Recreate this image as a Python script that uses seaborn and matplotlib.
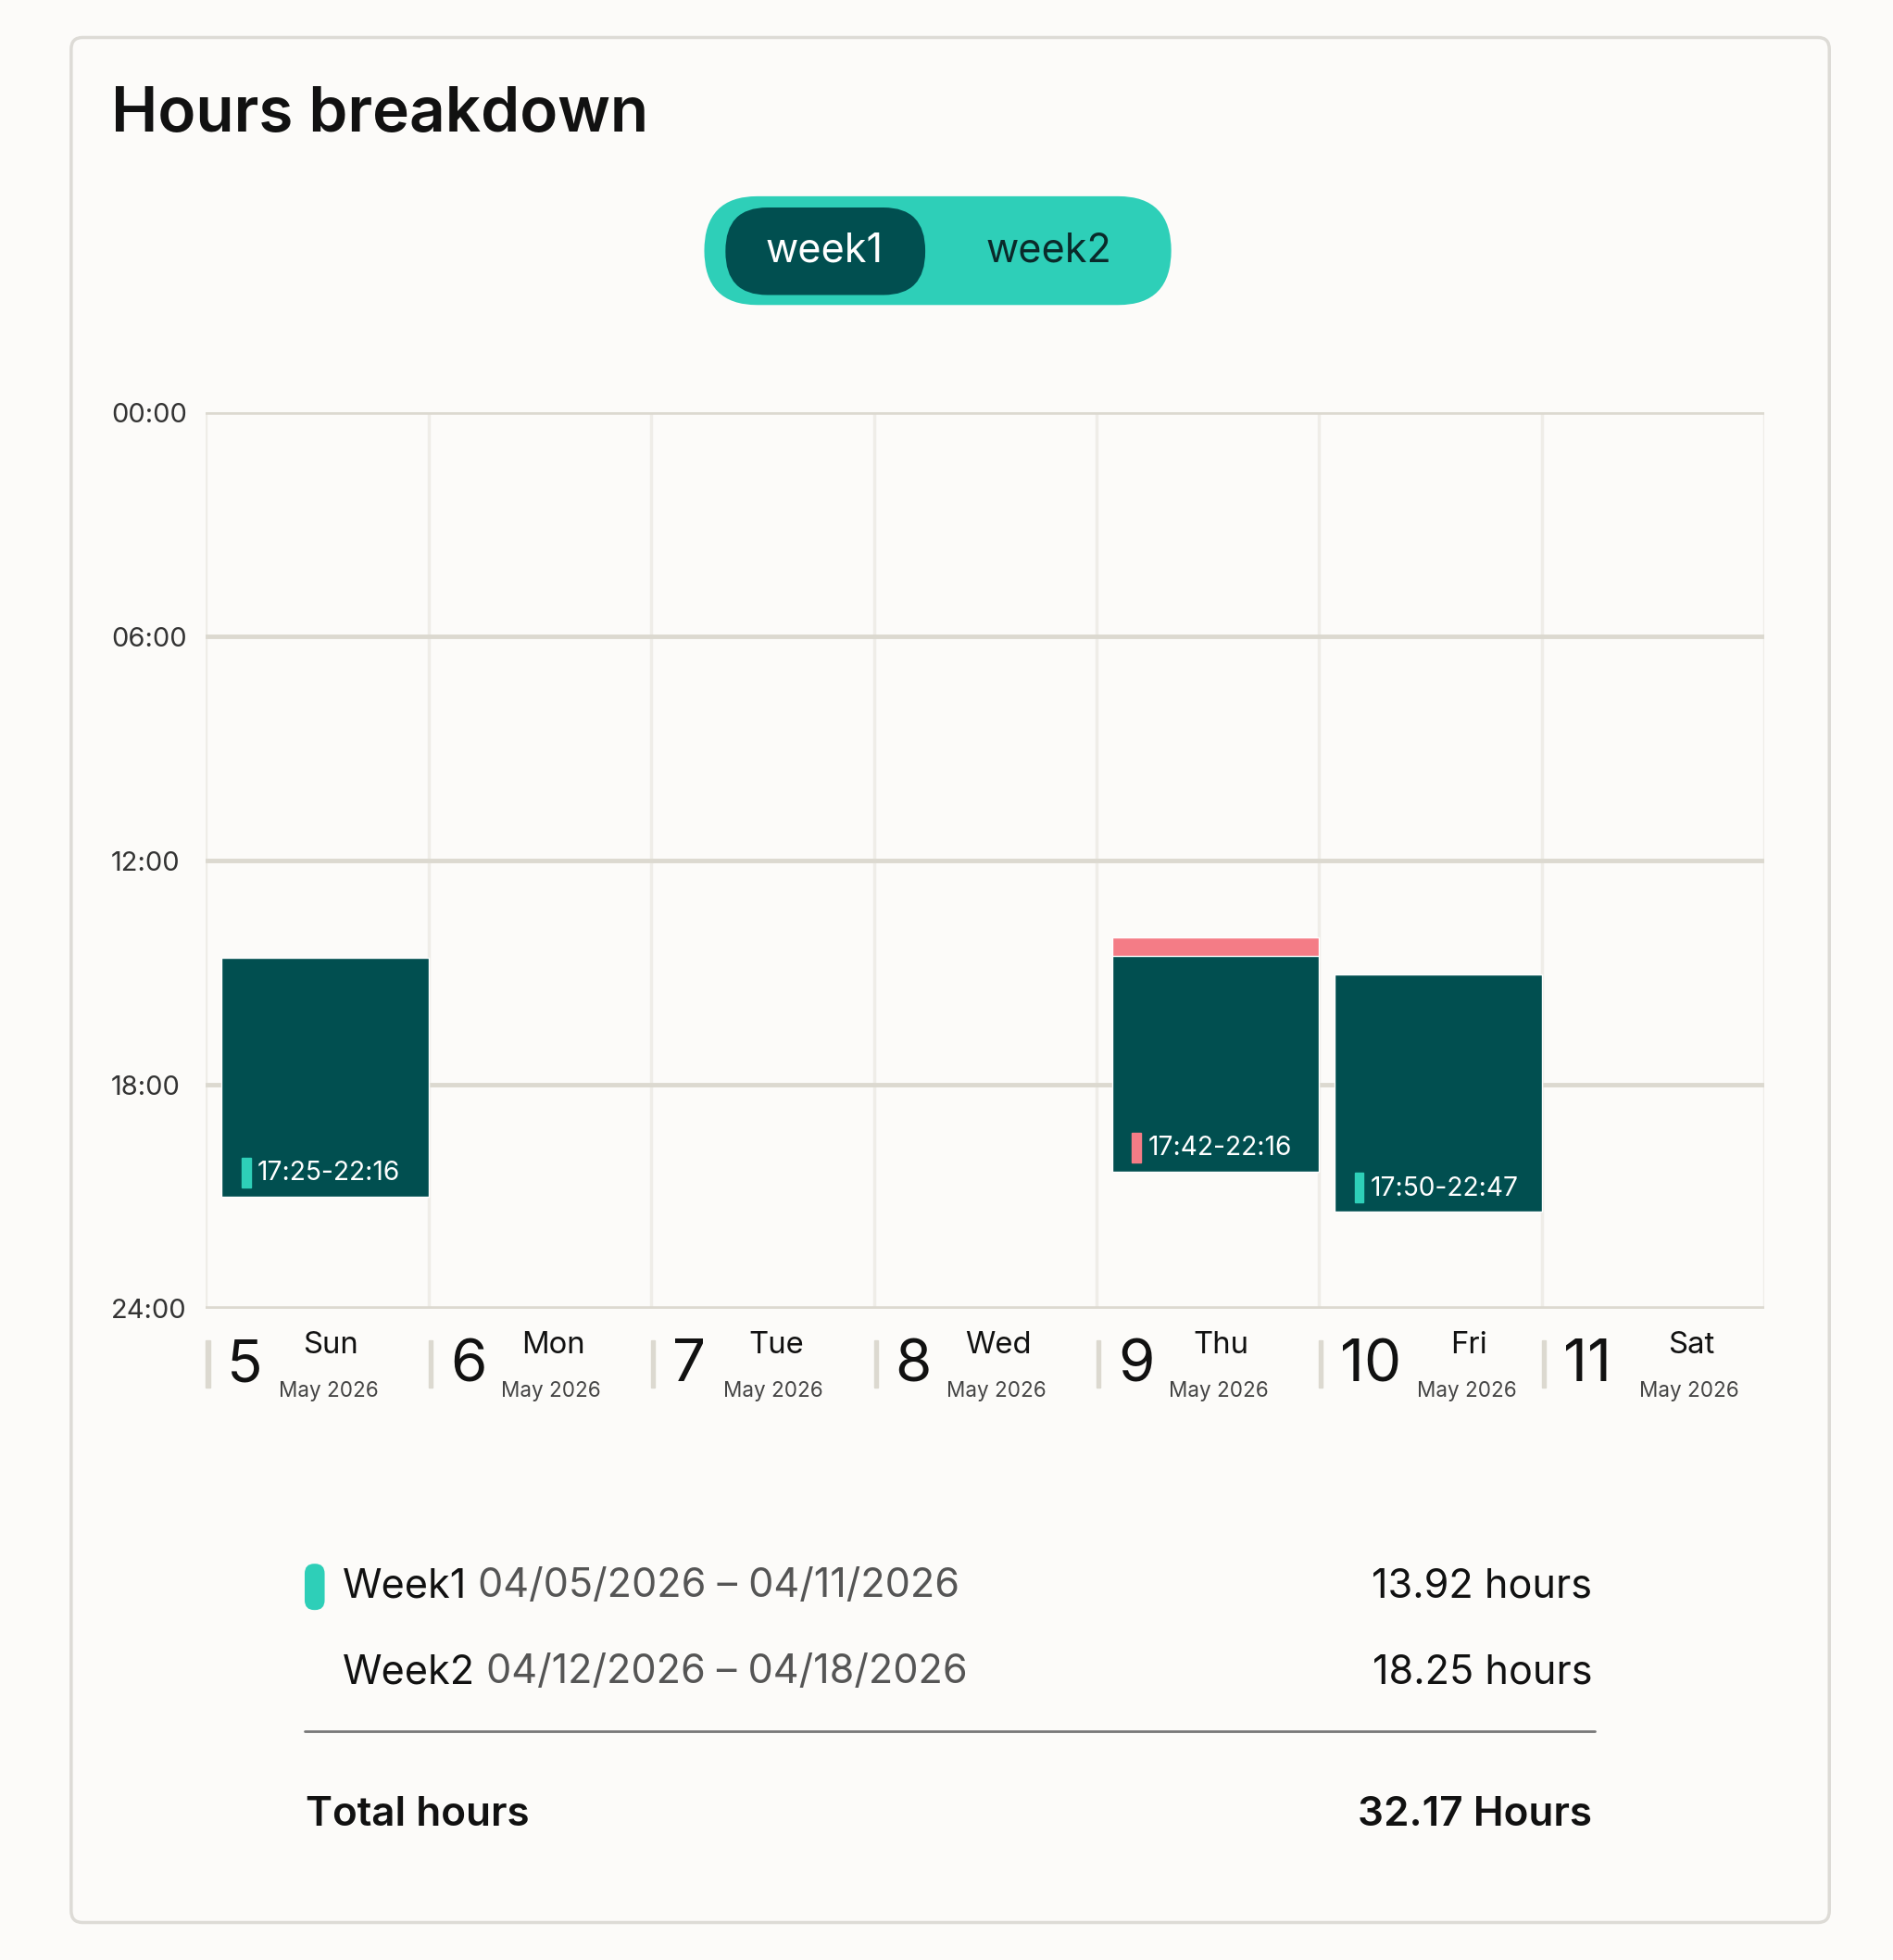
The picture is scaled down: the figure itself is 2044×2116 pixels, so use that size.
import matplotlib
matplotlib.use("Agg")
import matplotlib.pyplot as plt
import seaborn as sns
from matplotlib.patches import FancyBboxPatch, Rectangle

sns.set_theme(style="white")
plt.rcParams['font.family'] = ['Inter', 'DejaVu Sans']

days = ["Sun", "Mon", "Tue", "Wed", "Thu", "Fri", "Sat"]
day_nums = ["5", "6", "7", "8", "9", "10", "11"]
month_label = "May 2026"
y_ticks = [0, 6, 12, 18, 24]
y_tick_labels = ["00:00", "06:00", "12:00", "18:00", "24:00"]
# bars: day index, start hour, end hour, label, marker colour
bar_day = [0, 4, 5]
bar_start = [14.6, 14.55, 15.05]
bar_end = [21.0, 20.33, 21.4]
bar_labels = ["17:25-22:16", "17:42-22:16", "17:50-22:47"]
bar_marks = ["#2ecfb8", "#f47c86", "#2ecfb8"]
pink_day = [4]
pink_start = [14.05]
pink_end = [14.7]
legend_names = ["Week1", "Week2"]
legend_ranges = ["04/05/2026 – 04/11/2026", "04/12/2026 – 04/18/2026"]
legend_hours = ["13.92 hours", "18.25 hours"]
total_label = "Total hours"
total_value = "32.17 Hours"

DARK = "#014f50"
TEAL = "#2ecfb8"
BG = "#fcfbf9"
W, H = 1516, 1568

fig = plt.figure(figsize=(20.44, 21.16), dpi=100)
fig.patch.set_facecolor(BG)

def fx(x): return x / W
def fy(y): return 1 - y / H
def fs(c): return c * 1.35

# card border
fig.patches.append(FancyBboxPatch((fx(57), fy(1538)), fx(1465) - fx(57), fy(30) - fy(1538),
                                  boxstyle="round,pad=0,rounding_size=0.006", transform=fig.transFigure,
                                  facecolor=BG, edgecolor="#dddbd6", linewidth=2.5, zorder=-10))
fig.text(fx(89), fy(92), "Hours breakdown", fontsize=fs(36), fontweight="semibold", color="#111",
         va="center", ha="left")

# toggle
fig.patches.append(FancyBboxPatch((fx(564), fy(244)), fx(938) - fx(564), fy(157) - fy(244),
                                  boxstyle="round,pad=0,rounding_size=0.028", transform=fig.transFigure,
                                  facecolor=TEAL, edgecolor="none", zorder=1))
fig.patches.append(FancyBboxPatch((fx(581), fy(236)), fx(741) - fx(581), fy(166) - fy(236),
                                  boxstyle="round,pad=0,rounding_size=0.022", transform=fig.transFigure,
                                  facecolor=DARK, edgecolor="none", zorder=2))
fig.text(fx(660), fy(201), "week1", fontsize=fs(23), color="white", ha="center", va="center", zorder=3)
fig.text(fx(840), fy(201), "week2", fontsize=fs(23), color="#0a2a2a", ha="center", va="center", zorder=3)

# chart axes
ax = fig.add_axes([fx(165), fy(1047), fx(1413) - fx(165), fy(330) - fy(1047)])
ax.set_zorder(5)
ax.patch.set_alpha(0)
ax.set_xlim(0, 7)
ax.set_ylim(24, 0)
for s in ax.spines.values():
    s.set_visible(False)
for i in range(8):
    ax.axvline(i, color="#efede8", lw=2.5, zorder=0)
for t in y_ticks:
    ax.axhline(t, color="#dcd9d0", lw=4 if t in (0, 24) else 3.5, zorder=1)
ax.set_yticks(y_ticks)
ax.set_yticklabels(y_tick_labels, fontsize=fs(15.5), color="#333", ha="left")
ax.tick_params(axis="y", length=0, pad=(165 - 89) * 1.348 * 0.72)
ax.set_xticks([])

off, wid = 0.07, 0.93
ax.bar([d + off for d in pink_day], [e - s for s, e in zip(pink_start, pink_end)], bottom=pink_start,
       width=wid, align="edge", color="#f47c86", zorder=3)
ax.bar([d + off for d in bar_day], [e - s for s, e in zip(bar_start, bar_end)], bottom=bar_start,
       width=wid, align="edge", color=DARK, zorder=4)
for d, e, lab, mc in zip(bar_day, bar_end, bar_labels, bar_marks):
    ax.add_patch(Rectangle((d + off + 0.09, e - 1.05), 0.04, 0.8, color=mc, zorder=5))
    ax.text(d + off + 0.16, e - 0.62, lab, color="white", fontsize=fs(15), va="center", ha="left", zorder=6)

# day labels
colw = (1413 - 165) / 7
for i, (n, d) in enumerate(zip(day_nums, days)):
    x0 = 165 + i * colw
    fig.patches.append(Rectangle((fx(x0), fy(1110)), fx(3), fy(1072) - fy(1110),
                                 transform=fig.transFigure, color="#dcd9d0"))
    fig.text(fx(x0 + 17), fy(1093), n, fontsize=fs(34), color="#111", ha="left", va="center")
    cx = x0 + (100 if len(n) == 1 else 120)
    fig.text(fx(cx), fy(1076), d, fontsize=fs(17.5), color="#111", ha="center", va="center")
    fig.text(fx(cx - 2), fy(1113), month_label, fontsize=fs(12), color="#444", ha="center", va="center")

# legend
fig.patches.append(FancyBboxPatch((fx(244), fy(1288)), fx(16), fy(1251) - fy(1288),
                                  boxstyle="round,pad=0,rounding_size=0.005", transform=fig.transFigure,
                                  facecolor=TEAL, edgecolor="none"))
for k, yy in enumerate([1269, 1338]):
    t = fig.text(fx(274), fy(yy), legend_names[k], fontsize=fs(23), color="#111", ha="left", va="center")
    fig.canvas.draw()
    bb = t.get_window_extent()
    fig.text(bb.x1 / fig.bbox.width + fx(9), fy(yy), legend_ranges[k], fontsize=fs(23), color="#555",
             ha="left", va="center")
    fig.text(fx(1275), fy(yy), legend_hours[k], fontsize=fs(23), color="#111", ha="right", va="center")
fig.lines.append(plt.Line2D([fx(244), fx(1277)], [fy(1385), fy(1385)], transform=fig.transFigure,
                            color="#777", lw=2))
fig.text(fx(245), fy(1452), total_label, fontsize=fs(23.5), fontweight="semibold", color="#111", ha="left", va="center")
fig.text(fx(1275), fy(1452), total_value, fontsize=fs(23.5), fontweight="semibold", color="#111", ha="right", va="center")

fig.savefig("out.png", dpi=100, facecolor=BG)
